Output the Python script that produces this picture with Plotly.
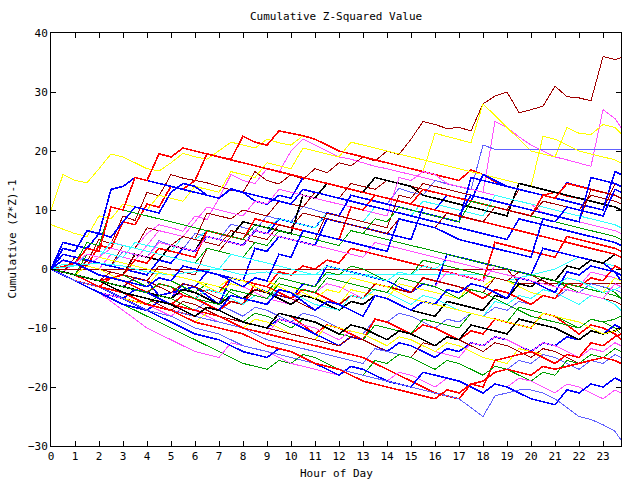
import plotly.graph_objects as go

hours = [0, 0.5, 1, 1.5, 2, 2.5, 3, 3.5, 4, 4.5, 5, 5.5, 6, 6.5, 7, 7.5, 8, 8.5, 9, 9.5,
         10, 10.5, 11, 11.5, 12, 12.5, 13, 13.5, 14, 14.5, 15, 15.5, 16, 16.5, 17, 17.5,
         18, 18.5, 19, 19.5, 20, 20.5, 21, 21.5, 22, 22.5, 23, 23.5, 23.75]
tick_hours = list(range(24))
y_ticks = [-30, -20, -10, 0, 10, 20, 30, 40]

palette = {
    "R": "#ff0000", "DR": "#a00000", "G": "#00a000", "B": "#0000ff",
    "LB": "#6060ff", "M": "#ff50ff", "C": "#30ffff", "Y": "#ffff00", "K": "#000000",
}

series_colors = [
    "DR", "M", "Y", "LB", "R", "Y",
    "B", "DR", "K", "M", "B", "C", "R", "DR", "G", "B",
    "R", "DR", "C", "B", "G", "M", "Y", "LB", "R", "K", "DR", "C", "B",
    "R", "G", "B", "M", "Y", "DR", "LB", "R", "G", "M", "B", "LB", "R", "K",
    "G", "B", "R", "C", "Y", "DR", "M", "G", "B",
]

series_values = [
    [0, -0.6, 2, 1.2, 5, 4.3, 9, 8.2, 13, 12.4, 16, 15.4, 15, 14.6, 14, 13.4, 13, 16.5, 15, 14.4, 16, 15.2, 17, 16.3, 18, 17.5, 19, 18.3, 20, 19.4, 22, 25, 24.5, 23.8, 24, 23.4, 28, 29.3, 30, 26.5, 27, 27.6, 31, 29.2, 29, 28.5, 36, 35.5, 35.8],
    [0, -0.5, 1, 0.6, 2, 4.6, 4, 3.5, 6, 7.5, 7, 6.4, 9, 8.4, 12, 16, 15, 14.5, 17, 16.4, 20, 22, 21, 20, 19, 18.6, 18, 17.4, 17, 16.5, 16, 15.6, 15, 14.4, 14, 13.5, 13, 25, 24, 22.4, 21, 20, 19, 18.5, 18, 17.4, 27, 25.5, 24],
    [10, 16, 15, 14.6, 17, 19.5, 19, 18, 17, 16.6, 18, 19.6, 19, 18.6, 20, 21.5, 21, 20.5, 22, 21.4, 21, 22.6, 22, 21, 20, 19.5, 19, 18.6, 18, 17.5, 17, 16.5, 23, 22.5, 22, 21.4, 28, 26, 24, 22, 20, 19.5, 19, 24, 23, 22.8, 24.5, 24, 23],
    [0, -0.5, -1, 1.6, 1, 0.5, 3, 2.4, 2, 4.8, 4, 3.4, 6, 5.5, 5, 7.6, 7, 6.5, 9, 8.4, 8, 10.6, 10, 9.4, 9, 12.5, 12, 11.4, 11, 13.7, 13, 12.5, 15, 14.5, 14, 13.4, 21, 20.3, 20.3, 20.3, 20.3, 20.3, 20.3, 20.3, 20.3, 20.3, 20.3, 20.3, 20.3],
    [0, 0.4, 1, 0.5, 4, 3.5, 8, 7.5, 11, 10.5, 14, 13.5, 15, 19.5, 19, 18.6, 22.5, 21.5, 21, 23.4, 23, 22.6, 22, 21, 20, 19.5, 19, 18.5, 18, 17.5, 17, 16.5, 16, 15.5, 15, 16.8, 16, 14.8, 14, 13.5, 13, 12.5, 13, 12.4, 12, 11.5, 11, 10.5, 10],
    [7.5, 6.8, 6, 5.5, 9, 8.5, 11, 10.5, 10, 12.5, 12, 11.5, 14, 13.5, 13, 16.5, 16, 15.5, 18, 17.5, 17, 20.5, 20, 19.5, 19, 21.5, 21, 20.5, 20, 19.5, 19, 18.5, 18, 17.5, 17, 16.5, 16, 15.5, 15, 14.5, 14, 22.5, 22, 21, 20, 19.5, 19, 18.5, 18],
    [0, 4.5, 4, 3.5, 6, 5.4, 8, 10.5, 10, 9.5, 13, 14.5, 14, 12.5, 12, 13.6, 13, 11.5, 11, 12.5, 12, 15.5, 15, 14.5, 14, 13.5, 13, 12.5, 12, 11.5, 11, 10.5, 10, 12.5, 12, 11.5, 16, 15, 14, 13.5, 13, 12.5, 12, 14.6, 14, 13.5, 13, 12.5, 12],
    [0, -0.5, -1, 1.5, 1, 0.5, 4, 3.5, 7, 6.5, 6, 5.5, 5, 9.5, 9, 8.5, 10, 9.5, 9, 11.5, 11, 10.5, 13, 12.5, 12, 14.5, 14, 13.5, 15, 14.5, 14, 13.5, 13, 12.5, 12, 11.5, 11, 10.5, 10, 13.5, 13, 12.5, 12, 11.5, 11, 10.5, 10, 14.5, 14],
    [0, -0.5, -1, -1.5, -2, -1.5, -1, 2.5, 2, 1.5, 4, 3.5, 3, 6.5, 6, 5.5, 8, 7.5, 7, 6.5, 6, 12.5, 12, 14.5, 14, 13.5, 13, 15.5, 15, 14.5, 14, 12.5, 12, 11.5, 11, 10.5, 10, 9.5, 9, 14.5, 14, 13.5, 13, 12.5, 12, 11.5, 11, 10.5, 10],
    [0, 1.4, 1, 0.5, 0, 2.5, 2, 1.5, 4, 6.5, 6, 5.5, 8, 10.5, 10, 9.5, 9, 11.5, 11, 13.5, 13, 12.5, 12, 11.5, 11, 10.5, 10, 9.5, 9, 15.5, 15, 16.5, 16, 14.5, 14, 13.5, 13, 12.5, 12, 11.5, 11, 9.5, 9, 8.5, 8, 7.5, 7, 6.5, 6],
    [0, 2.5, 2, 1.5, 1, 0.5, 0, -0.5, -1, 1.5, 1, 3.5, 3, 5.5, 5, 4.5, 4, 6.5, 6, 8.5, 8, 7.5, 7, 9.5, 9, 12.5, 12, 11.5, 11, 10.5, 10, 9.5, 9, 8.5, 8, 15.5, 15, 14.5, 14, 13.5, 13, 12.5, 12, 11.5, 11, 10.5, 10, 16.5, 16],
    [0, 1.5, 1, 3.5, 3, 2.5, 2, 4.5, 4, 3.5, 3, 5.5, 5, 6.5, 6, 5.5, 5, 7.5, 7, 8.5, 8, 7.5, 7, 9.5, 9, 8.5, 8, 10.5, 10, 9.5, 9, 11.5, 11, 10.5, 10, 9.5, 9, 12.5, 12, 11.5, 11, 10.5, 10, 9.5, 9, 8.5, 8, 7.5, 7],
    [0, -0.5, -1, -1.5, -2, -1.5, -1, 1.5, 1, 3.5, 3, 2.5, 2, 6.5, 6, 5.5, 5, 8.5, 8, 7.5, 7, 6.5, 6, 5.5, 5, 10.5, 10, 12.5, 12, 11.5, 11, 13.5, 13, 12.5, 12, 11.5, 11, 10.5, 10, 9.5, 9, 12.5, 12, 14.5, 14, 13.5, 13, 12.5, 12],
    [0, 1.5, 1, 0.5, 0, -0.5, -1, -1.5, -2, 0.5, 0, -0.5, -1, 3.5, 3, 5.5, 5, 4.5, 4, 6.5, 6, 5.5, 5, 9.5, 9, 8.5, 8, 7.5, 7, 12.5, 12, 14.5, 14, 13.5, 13, 12.5, 12, 11.5, 11, 10.5, 10, 9.5, 9, 8.5, 8, 13.5, 13, 12.5, 12],
    [0, -0.5, -1, 2.5, 2, 4.5, 4, 3.5, 3, 2.5, 2, 1.5, 1, 3.5, 3, 2.5, 2, 4.5, 4, 6.5, 6, 5.5, 5, 4.5, 4, 6.5, 6, 8.5, 8, 10.5, 10, 9.5, 9, 8.5, 8, 11.5, 11, 10.5, 10, 9.5, 9, 8.5, 8, 7.5, 7, 6.5, 6, 5.5, 5],
    [0, -0.5, -1, -1.5, -2, -2.5, -3, -1.5, -2, -4.5, -4, -3.5, -3, -0.5, -1, -1.5, -2, 3.5, 3, 5.5, 5, 4.5, 4, 8.5, 8, 7.5, 7, 6.5, 6, 5.5, 5, 10.5, 10, 9.5, 9, 12.5, 12, 11.5, 11, 10.5, 10, 9.5, 9, 8.5, 8, 15.5, 15, 14.5, 14],
    [0, -0.5, -1, -1.5, -2, -2.5, -3, -3.5, -4, -2.5, -3, -4.5, -5, -3.5, -4, -1.5, -2, -2.5, -3, -0.5, -1, 0.5, 0, 1.5, 1, 3.5, 3, 2.5, 2, 1.5, 1, 0.5, 0, -0.5, -1, -1.5, -2, 4.5, 4, 3.5, 3, 2.5, 2, 5.5, 5, 4.5, 4, 3.5, 3],
    [0, 0, 0, 0, 0, 0, 0, 0, 0, 0, 0, 0, 0, 0, 0, 0, 0, 0, 0, 0, 0, 0, 0, 0, 0, 0, 0, 0, 0, 0, 0, 0, 0, 0, 0, 0, 0, 0, 0, -2.4, -2.4, -2.4, -2.4, -2.4, -2.4, -2.4, -2.4, -2.4, -2.4],
    [0, 0.3, 0.5, 0.8, 1, 0.7, 0.5, 0, -0.5, -0.8, -1, -0.7, -0.5, -0.2, 0, -0.5, -1, -0.7, -0.5, -0.8, -1, -1, -1, -1, -1, -1, -1, -1, -1, -1, -1, -1, -1, -1, -1, -1, -1, -1.5, -2, -1.5, -1, -0.5, 0, 1, 2, 1.5, 1, 0.5, 0],
    [0, -0.5, -1, -2, -3, -1.5, -2, -3, -4, -4.5, -5, -2.5, -3, -4.5, -6, -1.5, -2, -3, -4, -4.5, -5, -2.5, -3, 0.5, 0, -0.5, -1, -1.5, -2, -3, -4, -2.5, -3, 2.5, 2, 1.5, 1, 0.5, 0, -0.5, -1, 3.5, 3, 2.5, 2, 1.5, 1, -0.5, -2],
    [0, -0.5, -1, -1.5, -2, -0.5, -1, -2, -3, -1.5, -2, -3, -4, -2.5, -3, -4, -5, -3.5, -4, -1.5, -2, -2.5, -3, -0.5, -1, 0.5, 0, -1, -2, -0.5, -1, 1.5, 1, 0.5, 0, -0.5, -1, -1.5, -2, -2.5, -3, -1.5, -2, -3, -4, -2.5, -3, -4, -5],
    [0, -0.5, -1, -1.5, -2, -2.5, -3, -1.5, -2, -3, -4, -4.5, -5, -3.5, -4, -2.5, -3, -4, -5, -5.5, -6, -3.5, -4, -2.5, -3, -4, -5, -3.5, -4, -1.5, -2, -2.5, -3, -0.5, -1, -1.5, -2, 0.5, 0, -0.5, -1, -1.5, -2, -2.5, -3, -0.5, -1, -1.5, -2],
    [0, -0.5, -1, 0.5, 0, -1, -2, -2.5, -3, -0.5, -1, -1.5, -2, -3, -4, -2.5, -3, -1.5, -2, -3, -4, -4.5, -5, -5.5, -6, -3.5, -4, -4.5, -5, -2.5, -3, -3.5, -4, -4.5, -5, -2.5, -3, -1.5, -2, -3, -4, -4.5, -5, -2.5, -3, -3.5, -4, -1.5, -2],
    [0, -0.5, -1, -1.5, -2, -3, -4, -4.5, -5, -5.5, -6, -6.5, -7, -5.5, -6, -7, -8, -6.5, -7, -8, -9, -7.5, -8, -9, -10, -10.5, -11, -8.5, -9, -7.5, -8, -9, -10, -8.5, -9, -7.5, -8, -6.5, -7, -5.5, -6, -4.5, -5, -3.5, -4, -2.5, -3, -3.5, -4],
    [0, -1, -2, -2.5, -3, -1.5, -2, -3, -4, -5, -6, -4.5, -5, -6, -7, -5.5, -6, -2.5, -3, -4, -5, -3.5, -4, -5, -6, -4.5, -5, -2.5, -3, -3.5, -4, -1.5, -2, -2.5, -3, -4, -5, -3.5, -4, -5, -6, -4.5, -5, -2.5, -3, -1.5, -2, 0.5, 0],
    [0, -0.5, -1, -1.5, -2, -2.5, -3, -3.5, -4, -4.5, -5, -3.5, -4, -5, -6, -4.5, -5, -3.5, -4, -5, -6, -4.5, -5, -6, -7, -5.5, -6, -4.5, -5, -6, -7, -7.5, -8, -5.5, -6, -6.5, -7, -4.5, -5, -2.5, -3, -1.5, -2, 0.5, 0, 1.5, 1, 2.5, 2],
    [0, -0.5, -1, -1.5, -2, -2.5, -3, -1.5, -2, -3, -4, -2.5, -3, -4, -5, -5.5, -6, -3.5, -4, -4.5, -5, -6, -7, -5.5, -6, -4.5, -5, -2.5, -3, -3.5, -4, -1.5, -2, -2.5, -3, -3.5, -4, -1.5, -2, -0.5, -1, -2, -3, -3.5, -4, -4.5, -5, -5.5, -6],
    [0, -0.5, -1, -1.5, -2, -2.5, -3, -3.5, -4, -2.5, -3, -4, -5, -3.5, -4, -5, -6, -4.5, -5, -3.5, -4, -5, -6, -6.5, -7, -4.5, -5, -3.5, -4, -5, -6, -4.5, -5, -6, -7, -7.5, -8, -5.5, -6, -4.5, -5, -3.5, -4, -5, -6, -4.5, -5, -6, -7],
    [0, -1, -2, -3, -4, -4.5, -5, -6, -7, -5.5, -6, -7, -8, -6.5, -7, -4.5, -5, -5.5, -6, -3.5, -4, -5.5, -7, -5.5, -6, -7, -8, -4.5, -5, -6, -7, -5.5, -6, -3.5, -4, -2.5, -3, -4, -5, -1.5, -2, -3, -4, -0.5, -1, 0.5, 0, -0.5, -1],
    [0, -1, -2, -2.5, -3, -4, -5, -5.5, -6, -6.5, -7, -7.5, -8, -6.5, -7, -8, -9, -9.5, -10, -7.5, -8, -9.5, -11, -9.5, -10, -11, -12, -8.5, -9, -10, -11, -9.5, -10, -11, -12, -10.5, -11, -8.5, -9, -9.5, -10, -7.5, -8, -9.5, -11, -9.5, -10, -11, -12],
    [0, -0.5, -1, -2, -3, -3.5, -4, -5, -6, -4.5, -5, -6, -7, -7.5, -8, -8.5, -9, -7.5, -8, -9, -10, -8.5, -9, -10, -11, -11.5, -12, -9.5, -10, -10.5, -11, -8.5, -9, -9.5, -10, -7.5, -8, -8.5, -9, -6.5, -7, -7.5, -8, -9, -10, -8.5, -9, -10, -11],
    [0, -0.5, -1, -2, -3, -4, -5, -3.5, -4, -5, -6, -7, -8, -6.5, -7, -8, -9, -9.5, -10, -8.5, -9, -10, -11, -12, -13, -11.5, -12, -13, -14, -12.5, -13, -14, -15, -13.5, -14, -12.5, -13, -11.5, -12, -13, -14, -12.5, -13, -11.5, -12, -10.5, -11, -9.5, -10],
    [0, -1, -2, -3, -4, -4.5, -5, -5.5, -6, -7, -8, -6.5, -7, -8, -9, -9.5, -10, -10.5, -11, -8.5, -9, -9.5, -10, -11, -12, -10.5, -11, -12, -13, -11.5, -12, -13, -14, -14.5, -15, -12.5, -13, -11.5, -12, -13, -14, -12.5, -13, -14, -15, -13.5, -14, -12.5, -13],
    [0, -1, -2, -2.5, -3, -4, -5, -5.5, -6, -6.5, -7, -8, -9, -7.5, -8, -9, -10, -8.5, -9, -10, -11, -11.5, -12, -9.5, -10, -10.5, -11, -12, -13, -11.5, -12, -13, -14, -12.5, -13, -14, -15, -15.5, -16, -13.5, -14, -14.5, -15, -16, -17, -15.5, -16, -14.5, -15],
    [0, -0.5, -1, -2, -3, -3.5, -4, -4.5, -5, -6, -7, -5.5, -6, -7, -8, -8.5, -9, -9.5, -10, -10.5, -11, -11.5, -12, -12.5, -13, -11.5, -12, -13, -14, -14.5, -15, -12.5, -13, -11.5, -12, -13, -14, -12.5, -13, -14, -15, -13.5, -14, -15, -16, -14.5, -15, -13.5, -14],
    [0, -1, -2, -2.5, -3, -3.5, -4, -5, -6, -6.5, -7, -7.5, -8, -8.5, -9, -9.5, -10, -11, -12, -12.5, -13, -13.5, -14, -14.5, -15, -15.5, -16, -13.5, -14, -14.5, -15, -16, -17, -15.5, -16, -17, -18, -16.5, -17, -15.5, -16, -14.5, -15, -16, -17, -15.5, -16, -14.5, -15],
    [0, -0.5, -1, -1.5, -2, -3, -4, -4.5, -5, -5.5, -6, -6.5, -7, -7.5, -8, -9, -10, -10.5, -11, -11.5, -12, -12.5, -13, -13.5, -14, -14.5, -15, -16, -17, -18, -19, -20, -21, -21.5, -22, -19.5, -20, -15.5, -15, -14.5, -14, -15, -16, -14.5, -15, -12.5, -13, -11.5, -11],
    [0, -1, -2, -3, -4, -5, -6, -7, -8, -9, -10, -11, -12, -13, -14, -15, -16, -16.5, -17, -15.5, -16, -14.5, -15, -16, -17, -17.5, -18, -15.5, -16, -14.5, -15, -16, -17, -15.5, -16, -17, -18, -16.5, -17, -18, -19, -17.5, -18, -15.5, -16, -14.5, -15, -13.5, -14],
    [0, -1, -2, -3, -4, -5.5, -7, -8.5, -10, -11, -12, -13, -14, -14.5, -15, -12.5, -13, -13.5, -14, -15, -16, -16.5, -17, -17.5, -18, -16.5, -17, -18, -19, -17.5, -18, -19, -20, -18.5, -19, -20, -21, -19.5, -20, -18.5, -19, -20, -21, -19.5, -20, -21, -22, -20.5, -21],
    [0, -1, -2, -3, -4, -5, -6, -6.5, -7, -8, -9, -10, -11, -11.5, -12, -13, -14, -14.5, -15, -13.5, -14, -15, -16, -17, -18, -16.5, -17, -18, -19, -19.5, -20, -17.5, -18, -18.5, -19, -20, -21, -19.5, -20, -21, -22, -22.5, -23, -20.5, -21, -19.5, -20, -18.5, -19],
    [0, -1, -2, -2.5, -3, -4, -5, -6, -7, -7.5, -8, -9, -10, -10.5, -11, -12, -13, -13.5, -14, -14.5, -15, -15.5, -16, -16.5, -17, -17.5, -18, -18.5, -19, -19.5, -20, -20.5, -21, -21.5, -22, -23.5, -25, -21.5, -21, -20.5, -20.5, -21, -22, -23.5, -25, -25.5, -26.4, -27.5, -29],
    [0, -0.5, -1, -2, -3, -3.5, -4, -5, -6, -6.5, -7, -8, -9, -9.5, -10, -10.5, -11, -12, -13, -13.5, -14, -15, -16, -16.5, -17, -18, -19, -19.5, -20, -20.5, -21, -21.5, -22, -20.5, -21, -19.5, -19, -17.5, -17, -17.5, -18, -16.5, -17, -16.5, -16, -15.5, -15, -15.5, -16],
    [0, -0.5, -1, -1.5, -2, -3, -4, -4.5, -5, -5.5, -6, -7, -8, -6.5, -7, -8, -9, -9.5, -10, -7.5, -8, -8.5, -9, -10, -11, -9.5, -10, -11, -12, -10.5, -11, -12, -13, -11.5, -12, -9.5, -10, -10.5, -11, -8.5, -9, -9.5, -10, -11, -12, -10.5, -11, -10.5, -10],
    [0, 1.5, 1, 4.5, 4, 10.5, 10, 9.5, 9, 8.5, 8, 7.5, 7, 6.5, 6, 5.5, 5, 7.5, 7, 6.5, 6, 5.5, 5, 4.5, 4, 6.5, 6, 5.5, 5, 4.5, 4, 3.5, 3, 2.5, 2, 1.5, 1, 0.5, 0, -0.5, -1, -1.5, -2, -2.5, -3, -3.5, -4, -4.5, -5],
    [0, 3.5, 3, 6.5, 6, 13.5, 14, 15.5, 15, 14.5, 14, 13.5, 13, 12.5, 12, 13.5, 13, 12.5, 12, 11.5, 11, 13.5, 13, 12.5, 12, 11.5, 11, 10.5, 10, 9.5, 9, 8.5, 8, 7.5, 7, 6.5, 6, 5.5, 5, 8.5, 8, 7.5, 7, 6.5, 6, 5.5, 5, 4.5, 4],
    [0, 1.5, 1, 3.5, 3, 10.5, 10, 15.5, 15, 19.5, 19, 20.5, 20, 19.5, 19, 18.5, 18, 17.5, 17, 16.5, 16, 15.5, 15, 14.5, 14, 13.5, 13, 12.5, 12, 11.5, 11, 10.5, 10, 9.5, 9, 8.5, 8, 7.5, 7, 6.5, 6, 5.5, 5, 4.5, 4, 3.5, 3, 2.5, 2],
    [0, 0.8, 0.5, 2.5, 2, 4.5, 4, 3.5, 3, 2.5, 2, 1.5, 1, 0.5, 0, 2.5, 2, 1.5, 1, 0.5, 0, -0.5, -1, 0.5, 0, -0.5, -1, -1.5, -2, -0.5, -1, 0.5, 0, 1.5, 1, 0.5, 0, -0.5, -1, -1.5, -2, -2.5, -3, -1.5, -2, -3, -4, -3.5, -3],
    [0, 1.5, 1, 2.5, 2, 1.5, 1, 0.5, 0, -0.5, -1, -1.5, -2, -2.5, -3, -1.5, -2, -3, -4, -2.5, -3, -4, -5, -3.5, -4, -1.5, -2, -2.5, -3, -4, -5, -5.5, -6, -6.5, -7, -7.5, -8, -8.5, -9, -9.5, -10, -7.5, -8, -8.5, -9, -10, -11, -10.5, -10],
    [0, -0.5, -1, -1.5, -2, -0.5, -1, 2.5, 2, 4.5, 4, 5.5, 5, 4.5, 4, 6.5, 6, 5.5, 5, 7.5, 7, 9.5, 9, 8.5, 8, 7.5, 7, 6.5, 6, 8.5, 8, 7.5, 7, 9.5, 9, 8.5, 8, 10.5, 10, 9.5, 9, 11.5, 11, 10.5, 10, 12.5, 12, 11.5, 11],
    [0, 1.5, 1, 2.5, 2, 3.5, 3, 2.5, 2, 4.5, 4, 3.5, 3, 5.5, 5, 4.5, 4, 6.5, 6, 5.5, 5, 4.5, 4, 3.5, 3, 2.5, 2, 4.5, 4, 3.5, 3, 2.5, 2, 1.5, 1, 0.5, 0, -0.5, -1, -1.5, -2, -2.5, -3, -3.5, -4, -4.5, -5, -2.5, -3],
    [0, -0.5, -1, -1.5, -2, -2.5, -3, -3.5, -4, -2.5, -3, -4, -5, -5.5, -6, -3.5, -4, -4.5, -5, -2.5, -3, -3.5, -4, -1.5, -2, -2.5, -3, -3.5, -4, -1.5, -2, -2.5, -3, -4, -5, -3.5, -4, -5, -6, -7, -8, -8.5, -9, -9.5, -10, -8.5, -9, -8.5, -8],
    [0, 1.5, 1, 0, -1, -1.5, -2, -2.5, -3, -1.5, -2, 0.5, 0, -0.5, -1, -2, -3, -1.5, -2, 2.5, 2, 6.5, 6, 5.5, 5, 4.5, 4, 3.5, 3, 8.5, 8, 7.5, 7, 6, 5, 4.5, 4, 3.5, 3, 2.5, 2, 8.5, 8, 10.5, 10, 9.5, 9, 13.5, 13],
]

thick = {"R", "B", "K"}
FONT = "DejaVu Sans Mono"

fig = go.Figure()
for key, vals in zip(series_colors, series_values):
    fig.add_trace(go.Scatter(
        x=hours[:len(vals)], y=vals, mode="lines",
        line=dict(color=palette[key], width=1.6 if key in thick else 1.0),
        showlegend=False, hoverinfo="skip",
    ))

axis_common = dict(
    showline=True, linecolor="black", linewidth=1, mirror="allticks",
    ticks="inside", ticklen=5, tickcolor="black", showgrid=False, zeroline=False,
    tickfont=dict(family=FONT, size=11, color="black"),
)

fig.update_layout(
    width=640, height=480,
    margin=dict(l=51, r=19, t=33, b=34),
    paper_bgcolor="white", plot_bgcolor="white",
    xaxis=dict(range=[0, 23.75], tickvals=tick_hours, ticktext=[str(h) for h in tick_hours], **axis_common),
    yaxis=dict(range=[-30, 40], tickvals=y_ticks, **axis_common),
    annotations=[
        dict(text="Cumulative Z-Squared Value", xref="paper", yref="paper", x=0.5, y=(480 - 16 - 34) / 413,
             showarrow=False, xanchor="center", yanchor="middle", font=dict(family=FONT, size=11, color="black")),
        dict(text="Hour of Day", xref="paper", yref="paper", x=0.5, y=-(473 - 446) / 413,
             showarrow=False, xanchor="center", yanchor="middle", font=dict(family=FONT, size=11, color="black")),
        dict(text="Cumulative (Z*Z)-1", xref="paper", yref="paper", x=-(51 - 12) / 570, y=0.5,
             showarrow=False, xanchor="center", yanchor="middle", textangle=-90,
             font=dict(family=FONT, size=11, color="black")),
    ],
)

crisp = "document.querySelectorAll('.scatterlayer path').forEach(function(p){p.style.shapeRendering='crispEdges';});"
fig.write_html("out.html", post_script=crisp)
